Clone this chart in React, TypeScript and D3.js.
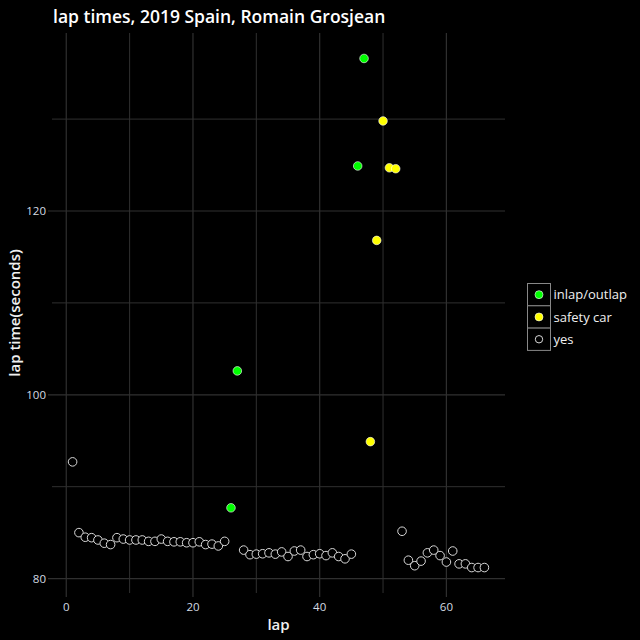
import React from "react";
import * as d3 from "d3";

const laps = [
  1, 2, 3, 4, 5, 6, 7, 8, 9, 10, 11, 12, 13, 14, 15, 16, 17, 18, 19, 20, 21, 22,
  23, 24, 25, 26, 27, 28, 29, 30, 31, 32, 33, 34, 35, 36, 37, 38, 39, 40, 41, 42,
  43, 44, 45, 46, 47, 48, 49, 50, 51, 52, 53, 54, 55, 56, 57, 58, 59, 60, 61, 62,
  63, 64, 65, 66,
];

const lapTimes = [
  92.7, 85.0, 84.5, 84.45, 84.2, 83.85, 83.7, 84.45, 84.3, 84.2, 84.2, 84.2, 84.05,
  84.05, 84.3, 84.05, 84.0, 84.0, 83.9, 83.9, 84.0, 83.7, 83.75, 83.55, 84.05, 87.7,
  102.6, 83.1, 82.6, 82.66, 82.7, 82.8, 82.66, 82.9, 82.4, 83.0, 83.1, 82.4, 82.6,
  82.7, 82.5, 82.8, 82.4, 82.15, 82.66, 124.9, 136.6, 94.9, 116.8, 129.8, 124.7,
  124.6, 85.15, 82.0, 81.4, 81.9, 82.8, 83.1, 82.5, 81.8, 83.0, 81.6, 81.6, 81.2,
  81.2, 81.2,
];

const lapStatus = laps.map((l) =>
  l === 26 || l === 27 || l === 46 || l === 47
    ? "inlap/outlap"
    : l >= 48 && l <= 52
    ? "safety car"
    : "yes"
);

const categories = ["inlap/outlap", "safety car", "yes"];
const categoryFills = ["#00ff00", "#ffff00", "#000000"];

const xTicks = [0, 20, 40, 60];
const yTicks = [80, 100, 120];

const titleText = "lap times, 2019 Spain, Romain Grosjean";
const xLabel = "lap";
const yLabel = "lap time(seconds)";

export default function App() {
  const W = 640;
  const H = 640;
  const panel = { left: 52, right: 505, top: 33, bottom: 593 };

  const xMin = d3.min(laps)!;
  const xMax = d3.max(laps)!;
  const xPad = (xMax - xMin) * 0.05;
  const yMin = d3.min(lapTimes)!;
  const yMax = d3.max(lapTimes)!;
  const yPad = (yMax - yMin) * 0.05;

  const x = d3
    .scaleLinear()
    .domain([xMin - xPad, xMax + xPad])
    .range([panel.left, panel.right]);
  const y = d3
    .scaleLinear()
    .domain([yMin - yPad, yMax + yPad])
    .range([panel.bottom, panel.top]);

  const color = d3.scaleOrdinal<string, string>().domain(categories).range(categoryFills);

  const xMinor = [10, 30, 50];
  const yMinor = [90, 110, 130];
  const grid = "#303030";
  const font = "'Open Sans', sans-serif";

  const legendX = 527.5;
  const legendY = 283.5;
  const keyH = 22.3;
  const keyW = 23;
  const rPt = 4.3;

  return (
    <svg
      width={W}
      height={H}
      style={{ position: "absolute", left: 0, top: 0, background: "#000" }}
    >
      <rect x={0} y={0} width={W} height={H} fill="#000" />
      {/* grid */}
      {yMinor.map((v) => (
        <line key={"ym" + v} x1={panel.left} x2={panel.right} y1={y(v)} y2={y(v)} stroke={grid} strokeWidth={1} />
      ))}
      {xMinor.map((v) => (
        <line key={"xm" + v} y1={panel.top} y2={panel.bottom} x1={x(v)} x2={x(v)} stroke={grid} strokeWidth={1} />
      ))}
      {yTicks.map((v) => (
        <line key={"y" + v} x1={panel.left - 4} x2={panel.right} y1={y(v)} y2={y(v)} stroke={grid} strokeWidth={1.2} />
      ))}
      {xTicks.map((v) => (
        <line key={"x" + v} y1={panel.top} y2={panel.bottom + 4} x1={x(v)} x2={x(v)} stroke={grid} strokeWidth={1.2} />
      ))}
      {/* tick labels */}
      {yTicks.map((v) => (
        <text
          key={"yl" + v}
          x={panel.left - 6}
          y={y(v)}
          dy="0.35em"
          textAnchor="end"
          fill="#d4dbe3"
          fontSize={11.5}
          fontFamily={font}
        >
          {v}
        </text>
      ))}
      {xTicks.map((v) => (
        <text
          key={"xl" + v}
          x={x(v)}
          y={panel.bottom + 14}
          dy="0.35em"
          textAnchor="middle"
          fill="#d4dbe3"
          fontSize={11.5}
          fontFamily={font}
        >
          {v}
        </text>
      ))}
      {/* points */}
      {laps.map((l, i) => {
        const s = lapStatus[i];
        const hollow = s === "yes";
        return (
          <circle
            key={"p" + l}
            cx={x(l)}
            cy={y(lapTimes[i])}
            r={rPt}
            fill={color(s)}
            stroke={hollow ? "#d8d8d8" : "#ffffff"}
            strokeWidth={hollow ? 1 : 0.6}
          />
        );
      })}
      {/* titles */}
      <text x={53} y={22.5} fill="#ffffff" fontSize={17.5} fontWeight={600} fontFamily={font}>
        {titleText}
      </text>
      <text
        x={(panel.left + panel.right) / 2}
        y={630}
        textAnchor="middle"
        fill="#f0f0f0"
        fontSize={15}
        fontWeight={600}
        fontFamily={font}
      >
        {xLabel}
      </text>
      <text
        transform={`translate(20, ${(panel.top + panel.bottom) / 2}) rotate(-90)`}
        textAnchor="middle"
        fill="#f0f0f0"
        fontSize={15}
        fontWeight={600}
        fontFamily={font}
      >
        {yLabel}
      </text>
      {/* legend */}
      {categories.map((c, i) => {
        const ky = legendY + i * keyH;
        const hollow = c === "yes";
        return (
          <g key={"lg" + c}>
            <rect x={legendX} y={ky} width={keyW} height={keyH} fill="#000" stroke="#888" strokeWidth={1} />
            <circle
              cx={legendX + keyW / 2}
              cy={ky + keyH / 2}
              r={hollow ? 3.7 : 4}
              fill={color(c)}
              stroke={hollow ? "#d8d8d8" : "#ffffff"}
              strokeWidth={hollow ? 1 : 0.6}
            />
            <text
              x={legendX + keyW + 3}
              y={ky + keyH / 2}
              dy="0.35em"
              fill="#f0f0f0"
              fontSize={13}
              fontFamily={font}
            >
              {c}
            </text>
          </g>
        );
      })}
    </svg>
  );
}
